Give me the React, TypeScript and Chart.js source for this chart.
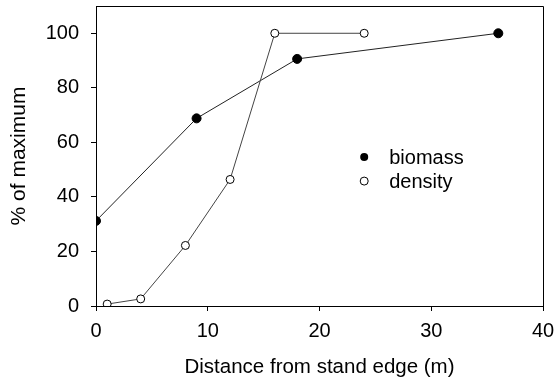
import React, { useEffect, useRef } from "react";
import { Chart, registerables } from "chart.js";

Chart.register(...registerables);

const biomassX = [0, 9, 18, 36];
const biomassY = [31.2, 68.8, 90.6, 100];
const densityX = [1, 4, 8, 12, 16, 24];
const densityY = [0.7, 2.6, 22.2, 46.4, 100, 100];
const xTicks = [0, 10, 20, 30, 40];
const yTicks = [0, 20, 40, 60, 80, 100];
const seriesLabels = ["biomass", "density"];
const xTitle = "Distance from stand edge (m)";
const yTitle = "% of maximum";

const FONT = "'Liberation Sans', Arial, Helvetica, sans-serif";

export default function App() {
  const ref = useRef<HTMLCanvasElement | null>(null);

  useEffect(() => {
    if (!ref.current) return;

    const framePlugin = {
      id: "frame",
      afterDraw(chart: any) {
        const { ctx, chartArea } = chart;
        ctx.save();
        ctx.strokeStyle = "#000";
        ctx.lineWidth = 1;
        ctx.beginPath();
        ctx.moveTo(chartArea.left, chartArea.top + 0.5);
        ctx.lineTo(chartArea.right + 0.5, chartArea.top + 0.5);
        ctx.lineTo(chartArea.right + 0.5, chartArea.bottom);
        ctx.stroke();

        // legend
        const xs = chart.scales.x;
        const ys = chart.scales.y;
        const mx = xs.getPixelForValue(24);
        const rows = [54.6, 45.8];
        ctx.font = `20px ${FONT}`;
        ctx.textBaseline = "middle";
        ctx.textAlign = "left";
        rows.forEach((v, i) => {
          const my = ys.getPixelForValue(v);
          ctx.beginPath();
          ctx.arc(mx, my, 4, 0, Math.PI * 2);
          if (i === 0) {
            ctx.fillStyle = "#000";
            ctx.fill();
          } else {
            ctx.fillStyle = "#fff";
            ctx.fill();
            ctx.strokeStyle = "#000";
            ctx.lineWidth = 1;
            ctx.stroke();
          }
          ctx.fillStyle = "#000";
          ctx.fillText(seriesLabels[i], mx + 25, my + 1);
        });
        ctx.restore();
      },
    };

    const zeroPad = (s: any) => {
      s.paddingTop = 0;
      s.paddingBottom = 0;
      s.paddingLeft = 0;
      s.paddingRight = 0;
    };

    const chart = new Chart(ref.current, {
      type: "scatter",
      data: {
        datasets: [
          {
            label: seriesLabels[1],
            data: densityX.map((x, i) => ({ x, y: densityY[i] })),
            showLine: true,
            borderColor: "#444",
            borderWidth: 1,
            pointRadius: 4,
            pointBackgroundColor: "#fff",
            pointBorderColor: "#000",
            pointBorderWidth: 1,
            tension: 0,
          },
          {
            label: seriesLabels[0],
            data: biomassX.map((x, i) => ({ x, y: biomassY[i] })),
            showLine: true,
            borderColor: "#222",
            borderWidth: 1,
            pointRadius: 4.5,
            pointBackgroundColor: "#000",
            pointBorderColor: "#000",
            pointBorderWidth: 1,
            tension: 0,
          },
        ],
      },
      options: {
        responsive: false,
        animation: false,
        devicePixelRatio: 1,
        layout: { padding: { top: 6, right: 14, left: 0, bottom: 0 } },
        plugins: {
          legend: { display: false },
          tooltip: { enabled: false },
        },
        scales: {
          x: {
            type: "linear",
            min: 0,
            max: 40,
            afterBuildTicks: (s: any) => {
              s.ticks = xTicks.map((v) => ({ value: v }));
            },
            afterFit: (s: any) => {
              s.height = 77;
              zeroPad(s);
            },
            grid: {
              drawOnChartArea: false,
              drawTicks: true,
              tickLength: 5,
              color: "#000",
            },
            border: { display: true, color: "#000", width: 1 },
            ticks: {
              color: "#000",
              padding: 8,
              font: { family: FONT, size: 20 },
              maxRotation: 0,
            },
            title: {
              display: true,
              text: xTitle,
              color: "#000",
              font: { family: FONT, size: 20.5 },
              padding: { top: 0, bottom: 3 },
            },
          },
          y: {
            type: "linear",
            min: 0,
            max: 110,
            afterBuildTicks: (s: any) => {
              s.ticks = yTicks.map((v) => ({ value: v }));
            },
            afterFit: (s: any) => {
              s.width = 96;
              zeroPad(s);
            },
            grid: {
              drawOnChartArea: false,
              drawTicks: true,
              tickLength: 5,
              color: "#000",
            },
            border: { display: true, color: "#000", width: 1 },
            ticks: {
              color: "#000",
              padding: 12,
              font: { family: FONT, size: 20 },
            },
            title: {
              display: true,
              text: yTitle,
              color: "#000",
              font: { family: FONT, size: 21 },
              padding: { top: 7, bottom: 0 },
            },
          },
        },
      },
      plugins: [framePlugin],
    } as any);

    return () => chart.destroy();
  }, []);

  return (
    <div style={{ position: "absolute", left: 0, top: 0, width: 557, height: 383, background: "#fff" }}>
      <canvas ref={ref} width={557} height={383} style={{ width: 557, height: 383, display: "block" }} />
    </div>
  );
}
